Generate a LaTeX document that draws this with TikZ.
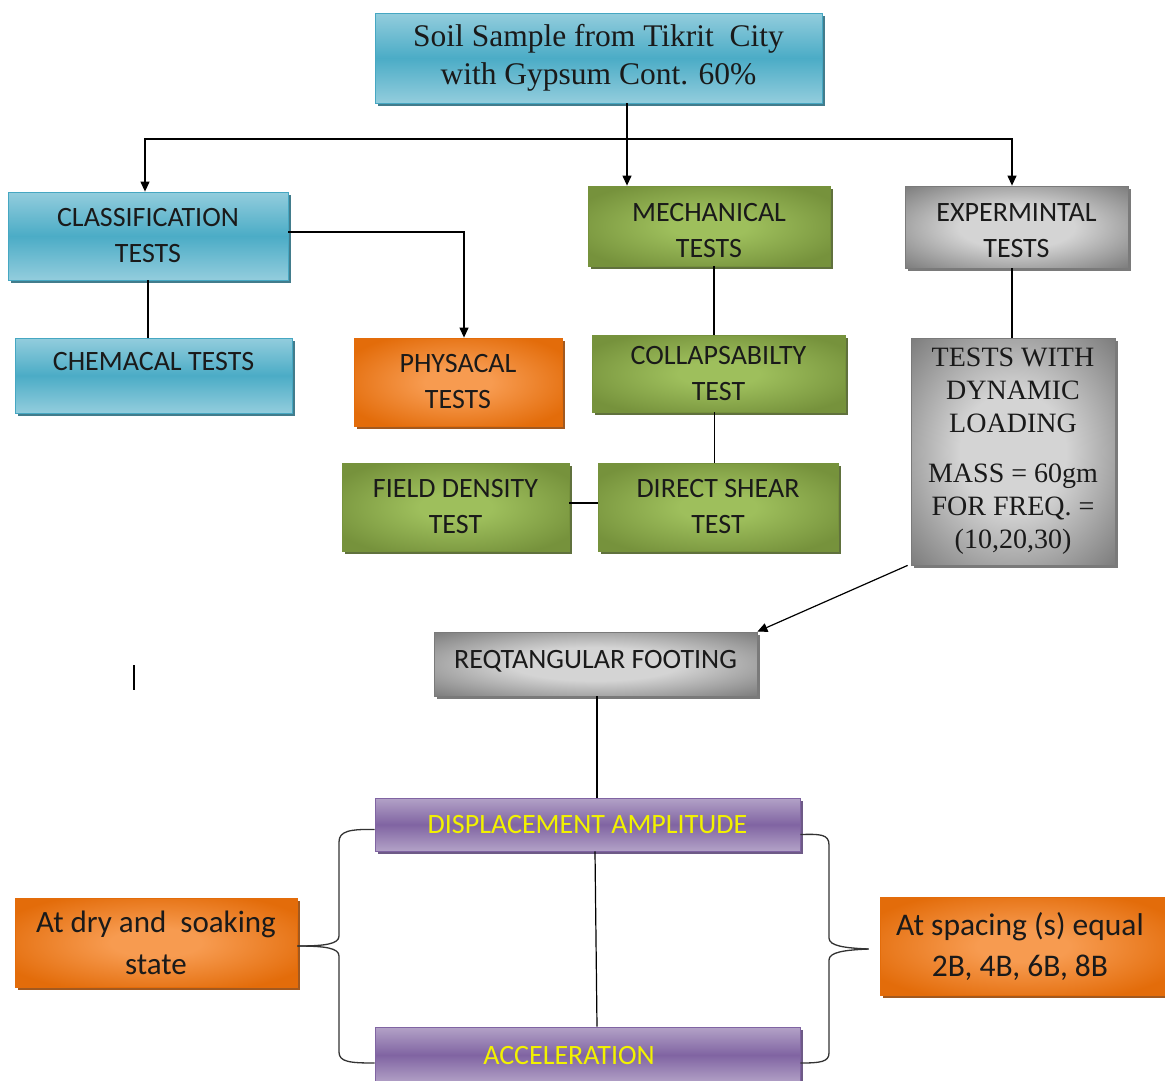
\documentclass[tikz,border=0pt]{standalone}
\usepackage{fontspec}
\setmainfont{Liberation Serif}
\newfontfamily\calfont{Carlito}
\usetikzlibrary{shadows,arrows.meta,calc}
\definecolor{blueL}{HTML}{93CDDD}
\definecolor{blueD}{HTML}{4BACC6}
\definecolor{blueB}{HTML}{46A7C2}
\definecolor{blueS}{HTML}{2E6E80}
\definecolor{greenL}{HTML}{9EBF5C}
\definecolor{greenD}{HTML}{76923C}
\definecolor{greenS}{HTML}{4F6228}
\definecolor{orL}{HTML}{F79B50}
\definecolor{orD}{HTML}{E36C0A}
\definecolor{orS}{HTML}{984807}
\definecolor{grL}{HTML}{D4D4D4}
\definecolor{grD}{HTML}{7A7A7A}
\definecolor{grS}{HTML}{595959}
\definecolor{puL}{HTML}{B3A2C7}
\definecolor{puD}{HTML}{8064A2}
\definecolor{puS}{HTML}{5F497A}
\definecolor{txt}{HTML}{1A1A1A}
\definecolor{yel}{HTML}{F2F200}
\pgfdeclareradialshading{grayrad}{\pgfpointorigin}{color(0bp)=(grL); color(13bp)=(grL); color(36bp)=(grD); color(50bp)=(grD)}
\pgfdeclareradialshading{greenrad}{\pgfpointorigin}{color(0bp)=(greenL); color(8bp)=(greenL); color(30bp)=(greenD); color(50bp)=(greenD)}
\pgfdeclareradialshading{orrad}{\pgfpointorigin}{color(0bp)=(orL); color(8bp)=(orL); color(30bp)=(orD); color(50bp)=(orD)}
\tikzset{
  base/.style={rectangle, inner sep=0pt, align=center, text=txt, line width=0.8pt,
    font=\calfont\fontsize{28}{36}\selectfont},
  bluebox/.style={base, draw=blueB, top color=blueL, bottom color=blueL, middle color=blueD,
    drop shadow={shadow xshift=3pt, shadow yshift=-3pt, fill=blueS, opacity=0.9}},
  greenbox/.style={base, draw=greenD, shading=greenrad,
    drop shadow={shadow xshift=3pt, shadow yshift=-3pt, fill=greenS, opacity=0.9}},
  orbox/.style={base, draw=orD, shading=orrad,
    drop shadow={shadow xshift=3pt, shadow yshift=-3pt, fill=orS, opacity=0.9}},
  grbox/.style={base, draw=grD, shading=grayrad,
    drop shadow={shadow xshift=3pt, shadow yshift=-3pt, fill=grS, opacity=0.8}},
  pubox/.style={base, draw=puD, top color=puL, bottom color=puL, middle color=puD, text=yel,
    drop shadow={shadow xshift=3pt, shadow yshift=-3pt, fill=puS, opacity=0.9}},
  conn/.style={line width=1.2pt, black},
  arr/.style={conn, -{Triangle[length=10pt,width=9pt]}},
  brace/.style={line width=1.3pt, black!80},
}
\begin{document}
\begin{tikzpicture}[x=1pt,y=-1pt]
\clip (0,0) rectangle (1165,1080);
\fill[white] (0,0) rectangle (1165,1080);
% nodes
\node[bluebox, minimum width=447pt, minimum height=90pt, font=\fontsize{31.5}{38}\selectfont] (soil) at (598.5,58)
  {Soil Sample from Tikrit\ \ City\\with Gypsum Cont. 60\%};
\node[bluebox, minimum width=280pt, minimum height=88pt] (class) at (148,236) {CLASSIFICATION\\TESTS};
\node[bluebox, minimum width=277pt, minimum height=75pt] (chem) at (153.5,375.5) {CHEMACAL TESTS\rule[-29pt]{0pt}{29pt}};
\node[orbox, minimum width=208pt, minimum height=88pt] (phys) at (458,382) {PHYSACAL\\TESTS};
\node[greenbox, minimum width=242pt, minimum height=80pt] (mech) at (709,226) {\rule{0pt}{28pt}MECHANICAL\\TESTS};
\node[greenbox, minimum width=253pt, minimum height=77pt] (coll) at (718.5,373.5) {COLLAPSABILTY\\TEST};
\node[greenbox, minimum width=240pt, minimum height=88pt] (dshear) at (718,507) {DIRECT SHEAR\\TEST};
\node[greenbox, minimum width=227pt, minimum height=88pt] (field) at (455.5,507) {FIELD DENSITY\\TEST};
\node[grbox, minimum width=223pt, minimum height=82pt] (exp) at (1016.5,227) {\rule{0pt}{26pt}EXPERMINTAL\\TESTS};
\node[grbox, minimum width=204pt, minimum height=227pt, font=\fontsize{28}{33}\selectfont] (dyn) at (1013,451.5)
  {TESTS WITH\\DYNAMIC\\LOADING\\[17pt]MASS = 60gm\\FOR FREQ. =\\(10,20,30)};
\node[grbox, minimum width=323pt, minimum height=64pt] (foot) at (595.5,664) {\raisebox{10pt}{REQTANGULAR FOOTING}};
\node[pubox, minimum width=425pt, minimum height=53pt] (disp) at (587.5,824.5) {DISPLACEMENT AMPLITUDE};
\node[pubox, minimum width=425pt, minimum height=56pt] (acc) at (587.5,1055) {\hspace*{-37pt}ACCELERATION};
\node[orbox, minimum width=282pt, minimum height=89pt, font=\calfont\fontsize{31}{42}\selectfont] (dry) at (156,942.5)
  {At dry and\ \ soaking\\state};
\node[orbox, minimum width=286pt, minimum height=98pt, font=\calfont\fontsize{31.5}{41}\selectfont] (spac) at (1023,946)
  {\hspace*{-6pt}At spacing (s) equal\\\hspace*{-6pt}2B, 4B, 6B, 8B};
% connectors from the top box
\coordinate (j) at (627,139);
\draw[conn] (soil.south -| j) -- (j);
\draw[arr] (j) -- (j |- mech.north);
\draw[arr] (j) -| ([xshift=-3pt]class.north);
\draw[arr] (j) -| ([xshift=-4.5pt]exp.north);
% classification
\draw[arr] ([yshift=4pt]class.east) -| ([xshift=6pt]phys.north);
\draw[conn] (class.south) -- (class.south |- chem.north);
% mechanical chain
\draw[conn] ([xshift=5pt]mech.south) -- ([xshift=5pt]mech.south |- coll.north);
\draw[conn] ([xshift=-4pt]coll.south) -- ([xshift=-4pt]coll.south |- dshear.north);
\draw[conn] ([yshift=4pt]field.east) -- ([yshift=4pt]dshear.west);
% experimental
\draw[conn] ([xshift=-4.5pt]exp.south) -- ([xshift=-4.5pt]exp.south |- dyn.north);
\draw[arr] ([xshift=-3pt]dyn.south west) -- (foot.north east);
% footing chain
\draw[conn] ([xshift=1.5pt]foot.south) -- ([xshift=9.5pt]disp.north);
\draw[conn] ([xshift=7.5pt]disp.south) -- ([xshift=9.5pt]acc.north);
% left brace
\draw[brace] ([yshift=-5pt]disp.west) .. controls (350,829) and (339,831) .. (339,842)
  -- (339,936) .. controls (339,944) and (325,946) .. (dry.east |- 0,946);
\draw[brace] (dry.east |- 0,946) .. controls (325,946) and (339,948) .. (339,956)
  -- (339,1052) .. controls (339,1062) and (350,1063) .. (acc.west |- 0,1063);
% right brace
\draw[brace] ([yshift=-10pt]disp.east) .. controls (820,834) and (829,834) .. (829,845)
  -- (829,938) .. controls (829,946) and (845,948) .. ([xshift=-11pt]spac.west |- 0,949);
\draw[brace] ([xshift=-11pt]spac.west |- 0,949) .. controls (845,950) and (829,952) .. (829,960)
  -- (829,1053) .. controls (829,1062) and (820,1063) .. (acc.east |- 0,1063);
% stray mark
\draw[line width=1.2pt] (134,665) -- (134,690);
\end{tikzpicture}
\end{document}
